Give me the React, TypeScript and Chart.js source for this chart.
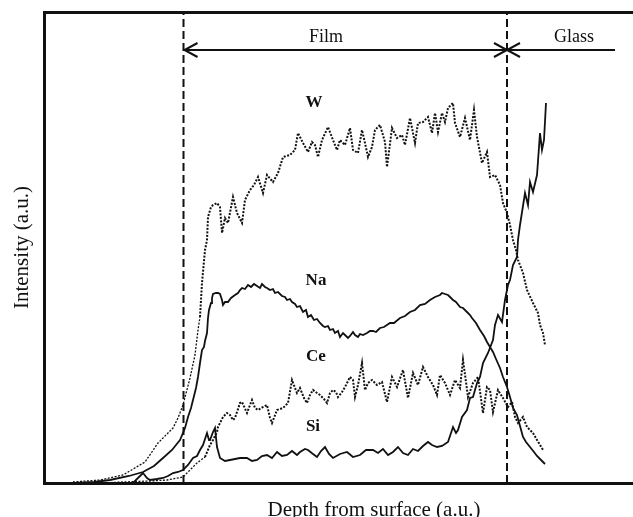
import React, { useEffect, useRef } from "react";
import { Chart, registerables } from "chart.js";
Chart.register(...registerables);

// Depth (a.u.) and intensity (a.u.) read from the profile
const wDepth = [29, 56, 79, 101, 114, 124, 129, 134, 139, 146, 151, 154, 156, 158, 161, 163, 164, 167, 169, 173, 176, 178, 181, 184, 189, 193, 198, 201, 206, 210, 214, 219, 223, 229, 234, 239, 246, 251, 254, 259, 264, 268, 271, 274, 278, 284, 289, 293, 296, 301, 306, 309, 314, 318, 321, 324, 328, 331, 336, 341, 343, 348, 353, 358, 361, 366, 371, 374, 379, 384, 388, 391, 394, 398, 401, 404, 409, 411, 416, 421, 426, 430, 433, 438, 443, 446, 451, 456, 459, 463, 466, 469, 472, 474, 479, 483, 489, 494, 496, 499, 501];
const wIntensity = [1, 3, 8, 21, 40, 50, 55, 65, 78, 105, 128, 153, 166, 200, 233, 243, 266, 276, 278, 280, 276, 250, 265, 260, 286, 270, 260, 283, 293, 298, 306, 290, 308, 301, 310, 326, 328, 333, 350, 340, 331, 341, 338, 326, 343, 356, 343, 333, 343, 338, 355, 333, 330, 353, 340, 326, 336, 353, 358, 341, 316, 355, 345, 348, 338, 365, 340, 360, 361, 366, 350, 370, 351, 370, 361, 375, 380, 360, 346, 365, 343, 373, 346, 320, 331, 306, 308, 298, 280, 270, 258, 243, 233, 223, 210, 193, 180, 170, 158, 150, 138];

const naDepth = [31, 50, 66, 85, 99, 110, 119, 128, 136, 141, 144, 147, 149, 152, 154, 156, 158, 160, 161, 163, 164, 165, 167, 168, 169, 172, 174, 176, 178, 179, 181, 184, 187, 191, 194, 196, 198, 201, 204, 207, 210, 213, 216, 218, 221, 223, 226, 229, 231, 234, 238, 241, 243, 246, 248, 251, 253, 256, 259, 262, 264, 267, 270, 273, 276, 279, 281, 284, 286, 289, 291, 294, 296, 299, 301, 304, 306, 309, 311, 314, 316, 319, 323, 326, 329, 332, 336, 340, 346, 350, 356, 361, 366, 371, 376, 381, 386, 391, 396, 398, 401, 404, 406, 409, 412, 416, 419, 423, 426, 428, 432, 436, 440, 443, 446, 449, 452, 456, 459, 463, 466, 469, 473, 476, 479, 482, 486, 490, 493, 497, 501];
const naIntensity = [0, 1, 3, 7, 11, 17, 25, 33, 43, 55, 66, 75, 83, 95, 106, 120, 133, 136, 142, 150, 165, 173, 180, 185, 189, 190, 190, 189, 183, 178, 181, 181, 185, 188, 190, 193, 195, 194, 198, 196, 199, 197, 195, 199, 196, 195, 193, 194, 190, 191, 187, 186, 183, 184, 181, 179, 176, 177, 171, 173, 166, 168, 163, 164, 160, 157, 156, 157, 153, 154, 150, 152, 146, 150, 148, 145, 147, 151, 148, 146, 149, 148, 150, 152, 152, 151, 155, 156, 160, 160, 165, 167, 171, 173, 178, 179, 183, 186, 188, 190, 189, 188, 186, 183, 181, 176, 175, 171, 168, 165, 160, 153, 147, 141, 136, 131, 124, 115, 106, 96, 86, 75, 68, 57, 46, 41, 36, 31, 27, 23, 19];

const ceDepth = [56, 79, 106, 123, 139, 146, 153, 161, 166, 169, 173, 174, 179, 183, 186, 189, 191, 196, 198, 203, 206, 208, 211, 214, 219, 223, 226, 228, 233, 239, 244, 248, 251, 253, 256, 260, 263, 266, 269, 273, 276, 280, 283, 286, 289, 292, 294, 298, 301, 306, 309, 311, 314, 318, 321, 324, 328, 333, 338, 343, 348, 353, 359, 364, 369, 374, 379, 384, 389, 393, 396, 401, 406, 411, 416, 419, 424, 429, 434, 439, 443, 446, 449, 454, 459, 464, 468, 471, 474, 479, 483, 489, 493, 496, 499];
const ceIntensity = [0, 1, 2, 3, 6, 13, 20, 26, 38, 43, 51, 56, 66, 70, 68, 63, 65, 80, 81, 70, 78, 83, 75, 73, 76, 78, 65, 60, 73, 75, 80, 103, 95, 90, 95, 85, 80, 88, 93, 90, 88, 84, 80, 90, 93, 91, 86, 91, 96, 106, 103, 86, 98, 120, 93, 100, 103, 98, 101, 81, 106, 96, 113, 85, 110, 98, 116, 106, 98, 88, 108, 100, 88, 103, 95, 123, 86, 100, 106, 70, 96, 93, 71, 93, 85, 76, 81, 66, 60, 66, 56, 50, 43, 38, 33];

const siDepth = [89, 96, 99, 103, 106, 113, 119, 124, 129, 134, 139, 144, 149, 153, 156, 159, 163, 165, 166, 169, 171, 173, 176, 181, 186, 191, 196, 203, 208, 213, 218, 223, 228, 233, 238, 243, 248, 253, 256, 261, 264, 269, 273, 277, 281, 285, 289, 296, 303, 309, 316, 322, 329, 334, 339, 344, 349, 354, 359, 364, 369, 374, 379, 384, 388, 393, 398, 404, 406, 409, 412, 414, 418, 423, 426, 429, 433, 436, 439, 444, 449, 451, 454, 458, 461, 464, 466, 469, 473, 474, 476, 481, 484, 486, 489, 493, 496, 498, 500, 502];
const siIntensity = [0, 7, 10, 5, 3, 4, 5, 7, 10, 11, 13, 18, 25, 27, 33, 38, 50, 43, 43, 51, 55, 36, 25, 22, 23, 24, 25, 25, 22, 23, 27, 28, 25, 31, 27, 28, 32, 28, 31, 34, 33, 29, 26, 32, 36, 29, 25, 29, 31, 26, 28, 33, 33, 30, 34, 28, 31, 36, 30, 28, 34, 32, 37, 41, 38, 36, 37, 41, 47, 56, 50, 53, 66, 73, 85, 86, 100, 106, 120, 130, 143, 158, 168, 161, 183, 198, 203, 218, 226, 243, 258, 290, 278, 301, 291, 308, 350, 333, 343, 380];

const depthMax = 660;
const intensityMax = 471;
const boundaryDepths = [139.5, 463];
const arrowIntensity = 433;
const glassArrowEnd = 571;
const regionLabels = ["Film", "Glass"];
const regionLabelDepths = [282, 530];
const regionLabelIntensity = 446;
const elementLabels = ["W", "Na", "Ce", "Si"];
const elementLabelDepths = [270, 272, 272, 269];
const elementLabelIntensities = [380, 202, 126, 56];

const INK = "#111";
const SERIF = "'Liberation Serif', 'Times New Roman', serif";

const toPoints = (xs: number[], ys: number[]) => xs.map((x, i) => ({ x, y: ys[i] }));

const annotatePlugin = {
  id: "annotate",
  afterDatasetsDraw(chart: any) {
    const { ctx, chartArea, scales } = chart;
    const xs = scales.x;
    const ys = scales.y;
    ctx.save();
    ctx.strokeStyle = INK;
    ctx.lineWidth = 3;
    ctx.strokeRect(chartArea.left + 0.5, chartArea.top + 0.5, chartArea.right - chartArea.left, chartArea.bottom - chartArea.top);
    ctx.lineWidth = 2;
    const ay = ys.getPixelForValue(arrowIntensity);
    const head = (tipX: number, dir: number) => {
      ctx.beginPath();
      ctx.moveTo(tipX + dir * 13, ay - 7);
      ctx.lineTo(tipX, ay);
      ctx.lineTo(tipX + dir * 13, ay + 7);
      ctx.stroke();
    };
    const b0 = xs.getPixelForValue(boundaryDepths[0]);
    const b1 = xs.getPixelForValue(boundaryDepths[1]);
    head(b0 + 1, 1);
    head(b1, -1);
    head(b1, 1);
    ctx.fillStyle = INK;
    ctx.textAlign = "center";
    ctx.textBaseline = "middle";
    ctx.font = `18px ${SERIF}`;
    regionLabels.forEach((t, i) => {
      ctx.fillText(t, xs.getPixelForValue(regionLabelDepths[i]), ys.getPixelForValue(regionLabelIntensity));
    });
    ctx.font = `bold 17px ${SERIF}`;
    elementLabels.forEach((t, i) => {
      ctx.fillText(t, xs.getPixelForValue(elementLabelDepths[i]), ys.getPixelForValue(elementLabelIntensities[i]));
    });
    ctx.restore();
  },
};

export default function App() {
  const ref = useRef<HTMLCanvasElement>(null);
  useEffect(() => {
    if (!ref.current) return;
    const dotted = {
      borderColor: INK,
      borderWidth: 2,
      borderDash: [2, 1.5],
      pointRadius: 0,
      fill: false,
      tension: 0,
      segment: { borderWidth: (c: any) => (c.p0.parsed.x < 155 ? 1.3 : 2) },
    };
    const solid = { borderColor: INK, borderWidth: 1.8, pointRadius: 0, fill: false, tension: 0 };
    const chart = new Chart(ref.current, {
      type: "line",
      data: {
        datasets: [
          { label: "W", data: toPoints(wDepth, wIntensity), ...dotted },
          { label: "Na", data: toPoints(naDepth, naIntensity), ...solid },
          { label: "Ce", data: toPoints(ceDepth, ceIntensity), ...dotted },
          { label: "Si", data: toPoints(siDepth, siIntensity), ...solid },
          { label: "b0", data: [{ x: boundaryDepths[0], y: 0 }, { x: boundaryDepths[0], y: intensityMax }], borderColor: INK, borderWidth: 2, borderDash: [8, 4], pointRadius: 0 },
          { label: "b1", data: [{ x: boundaryDepths[1], y: 0 }, { x: boundaryDepths[1], y: intensityMax }], borderColor: INK, borderWidth: 2, borderDash: [8, 4], pointRadius: 0 },
          { label: "arrow", data: [{ x: boundaryDepths[0], y: arrowIntensity }, { x: glassArrowEnd, y: arrowIntensity }], borderColor: INK, borderWidth: 2, pointRadius: 0 },
        ] as any,
      },
      options: {
        animation: false,
        responsive: false,
        layout: { padding: { left: 0, top: 12, right: 16, bottom: 0 } },
        plugins: { legend: { display: false }, tooltip: { enabled: false } },
        scales: {
          x: {
            type: "linear",
            min: 0,
            max: depthMax,
            ticks: { display: false },
            grid: { display: false, drawTicks: false },
            border: { display: false },
            title: { display: true, text: "Depth from surface (a.u.)", color: INK, font: { family: SERIF, size: 21 }, padding: { top: 14.4, bottom: 7.4 } },
          },
          y: {
            type: "linear",
            min: 0,
            max: intensityMax,
            ticks: { display: false },
            grid: { display: false, drawTicks: false },
            border: { display: false },
            title: { display: true, text: "Intensity (a.u.)", color: INK, font: { family: SERIF, size: 21 }, padding: { top: 9.4, bottom: 9.4 } },
          },
        },
      } as any,
      plugins: [annotatePlugin],
    });
    return () => chart.destroy();
  }, []);
  return (
    <div style={{ position: "fixed", left: 0, top: 0, width: 633, height: 517, overflow: "hidden", background: "#fff" }}>
      <canvas ref={ref} width={720} height={530} style={{ display: "block" }} />
    </div>
  );
}
